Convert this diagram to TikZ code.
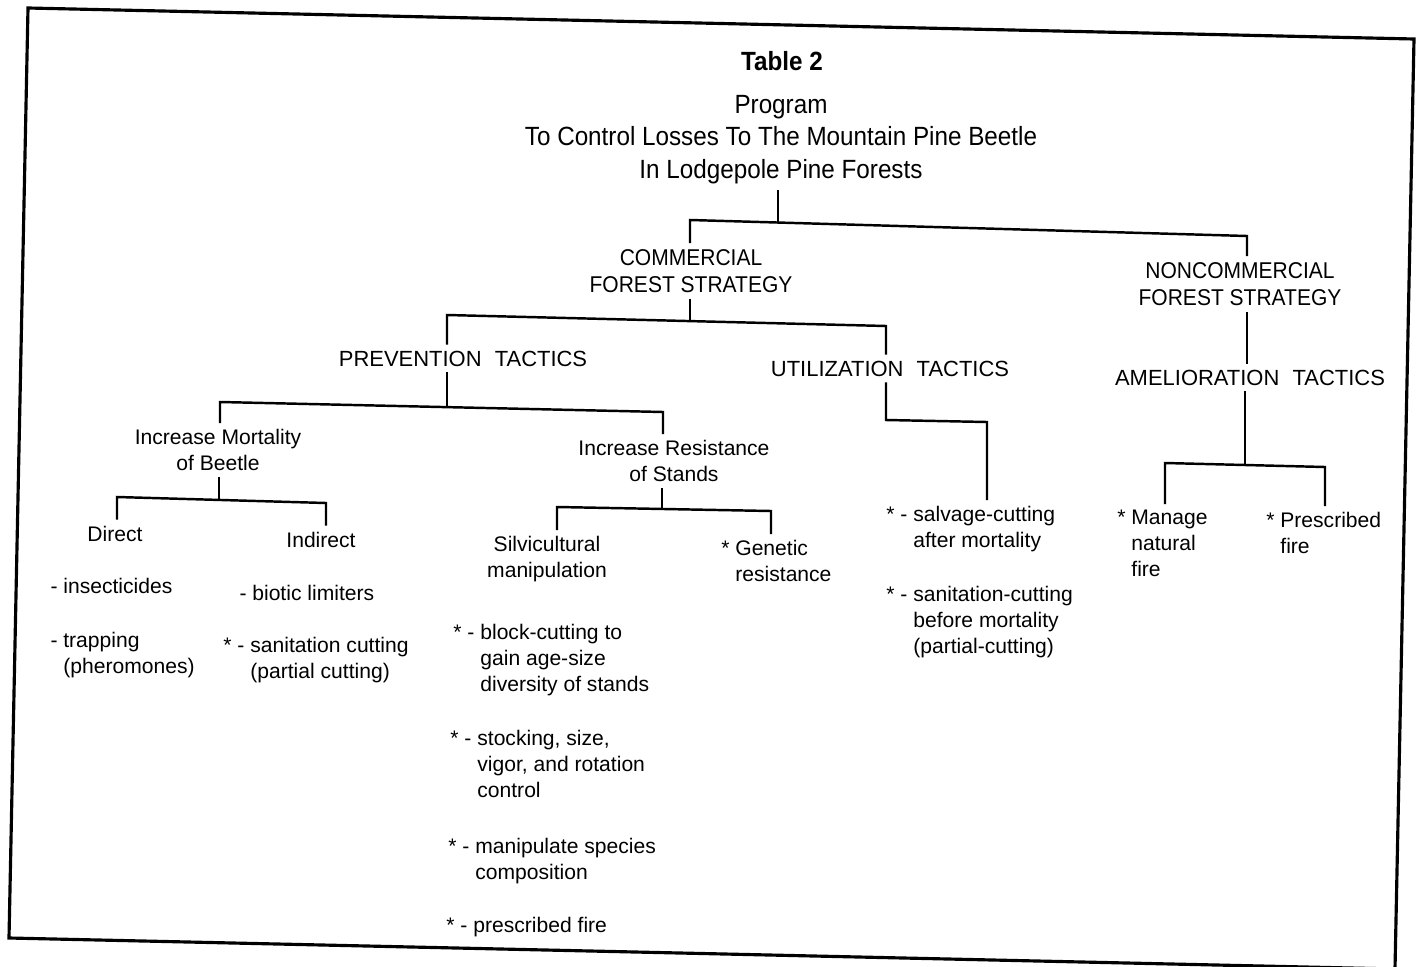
\documentclass[tikz,border=0pt]{standalone}
\usepackage{fontspec}
\setmainfont{Liberation Sans}
\newfontfamily\narrowfont[FakeStretch=0.92]{Liberation Sans}

\begin{document}
\begin{tikzpicture}[
    x=0.02cm, y=-0.02cm,
    tree/.style={line width=1.4pt, line cap=rect},
    frame/.style={line width=1.8pt, line join=miter},
    title/.style={
        inner sep=4pt,
        align=center,
        font=\narrowfont\fontsize{15}{18.4}\selectfont
    },
    strategy/.style={
        inner sep=4pt,
        align=center,
        font=\narrowfont\fontsize{13}{15.3}\selectfont
    },
    tactic/.style={
        inner sep=4pt,
        anchor=base,
        font=\fontsize{12.5}{15}\selectfont
    },
    branch/.style={
        inner sep=4pt,
        align=center,
        font=\fontsize{12}{14.7}\selectfont
    },
    item/.style={
        inner sep=4pt,
        anchor=north west,
        align=left,
        font=\fontsize{12}{14.7}\selectfont
    }
]
\useasboundingbox (0,0) rectangle (1417,967);

% Frame of the table
\draw[frame] (28,8) -- (1414,39) -- (1395,969) -- (9,938) -- cycle;

% Heading
\node[title, anchor=base, font=\narrowfont\bfseries\fontsize{15}{18}\selectfont] (tab) at (782,70) {Table 2};
\node[title, anchor=north] (head) at (781,88) {Program\\To Control Losses To The Mountain Pine Beetle\\In Lodgepole Pine Forests};

% Strategies
\node[strategy, anchor=north] (comm) at (691,242) {COMMERCIAL\\FOREST STRATEGY};
\node[strategy, anchor=north] (noncomm) at (1240,255) {NONCOMMERCIAL\\FOREST STRATEGY};

% Tactics
\node[tactic] (prev) at (463,366) {PREVENTION\hspace{0.6em}TACTICS};
\node[tactic] (util) at (890,376) {UTILIZATION\hspace{0.6em}TACTICS};
\node[tactic] (amel) at (1250,385) {AMELIORATION\hspace{0.6em}TACTICS};

% Prevention branches
\node[branch, anchor=north] (mort) at (218,422) {Increase Mortality\\of Beetle};
\node[branch, anchor=north] (resist) at (674,433) {Increase Resistance\\of Stands};
\node[branch, anchor=base] (direct) at (115,541) {Direct};
\node[branch, anchor=base] (indirect) at (321,547) {Indirect};
\node[branch, anchor=north] (silv) at (547,529) {Silvicultural\\manipulation};
\node[item] (gen) at (728,533) {\llap{*\ }Genetic\\resistance};

% Direct and indirect measures
\node[item] (insect) at (56,571) {\llap{-\ }insecticides};
\node[item] (trap) at (56,625) {\llap{-\ }trapping\\(pheromones)};
\node[item] (biotic) at (245,578) {\llap{-\ }biotic limiters};
\node[item] (sanit) at (243,630) {\llap{*\ -\ }sanitation cutting\\(partial cutting)};

% Silvicultural measures
\node[item] (block) at (473,617) {\llap{*\ -\ }block-cutting to\\gain age-size\\diversity of stands};
\node[item] (stock) at (470,723) {\llap{*\ -\ }stocking, size,\\vigor, and rotation\\control};
\node[item] (species) at (468,831) {\llap{*\ -\ }manipulate species\\composition};
\node[item] (fire) at (466,910) {\llap{*\ -\ }prescribed fire};

% Utilization measures
\node[item] (salv) at (906,499) {\llap{*\ -\ }salvage-cutting\\after mortality};
\node[item] (sanitb) at (906,579) {\llap{*\ -\ }sanitation-cutting\\before mortality\\(partial-cutting)};

% Amelioration measures
\node[item] (manage) at (1124,503) {\llap{*\ }Manage\\natural\\fire};
\node[item] (presc) at (1273,505) {\llap{*\ }Prescribed\\fire};

% Knots of the tree
\coordinate (kTop) at (778,222);
\coordinate (kComm) at (690,220);
\coordinate (kNon) at (1247,236);
\coordinate (kStrat) at (690,321);
\coordinate (kPrev) at (447,315);
\coordinate (kUtil) at (886,326);
\coordinate (kTac) at (447,407);
\coordinate (kMort) at (220,402);
\coordinate (kResist) at (663,412);
\coordinate (kMortDown) at (219,500);
\coordinate (kDirect) at (117,497);
\coordinate (kIndirect) at (326,503);
\coordinate (kResDown) at (662,509);
\coordinate (kSilv) at (557,507);
\coordinate (kGen) at (771,511);
\coordinate (kUtilDown) at (886,420);
\coordinate (kSalv) at (987,422);
\coordinate (kAmelDown) at (1245,465);
\coordinate (kManage) at (1165,463);
\coordinate (kPresc) at (1325,467);

% Connectors
\draw[tree] (head.south -| kTop) -- (kTop);
\draw[tree] (comm.north -| kComm) -- (kComm) -- (kNon) -- (noncomm.north -| kNon);
\draw[tree] (comm.south -| kStrat) -- (kStrat);
\draw[tree] (prev.north -| kPrev) -- (kPrev) -- (kUtil) -- (util.north -| kUtil);
\draw[tree] (noncomm.south -| kNon) -- (amel.north -| kNon);
\draw[tree] (prev.south -| kTac) -- (kTac);
\draw[tree] (mort.north -| kMort) -- (kMort) -- (kResist) -- (resist.north -| kResist);
\draw[tree] (mort.south -| kMortDown) -- (kMortDown);
\draw[tree] (direct.north -| kDirect) -- (kDirect) -- (kIndirect) -- (indirect.north -| kIndirect);
\draw[tree] (resist.south -| kResDown) -- (kResDown);
\draw[tree] (silv.north -| kSilv) -- (kSilv) -- (kGen) -- (gen.north -| kGen);
\draw[tree] (util.south -| kUtilDown) -- (kUtilDown) -- (kSalv) -- (salv.north -| kSalv);
\draw[tree] (amel.south -| kAmelDown) -- (kAmelDown);
\draw[tree] (manage.north -| kManage) -- (kManage) -- (kPresc) -- (presc.north -| kPresc);

\end{tikzpicture}
\end{document}
